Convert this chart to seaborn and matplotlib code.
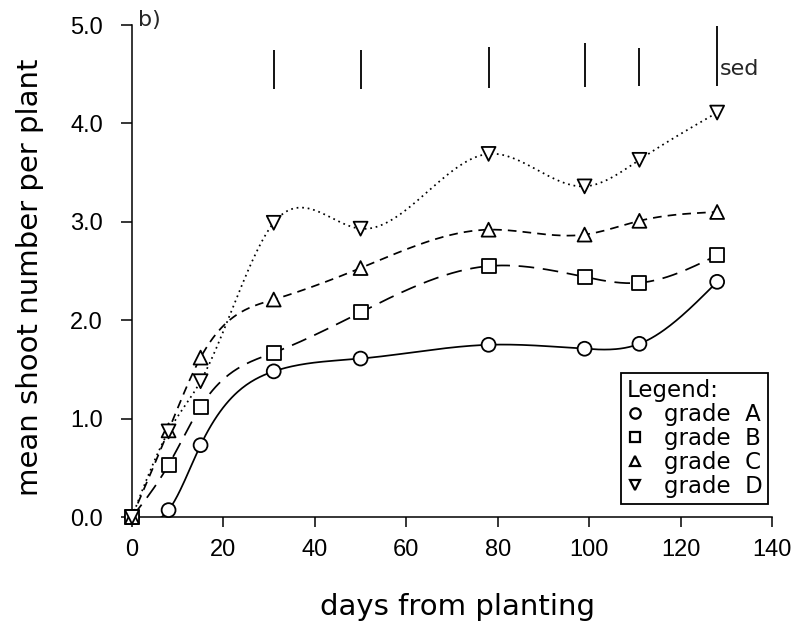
import numpy as np
import pandas as pd
import matplotlib
matplotlib.use("Agg")
import matplotlib.pyplot as plt
import seaborn as sns
from matplotlib.lines import Line2D

# ---------------- data ----------------
days = [0, 8, 15, 31, 50, 78, 99, 111, 128]
grade_a = [0.00, 0.07, 0.73, 1.48, 1.61, 1.75, 1.71, 1.76, 2.39]
grade_b = [0.00, 0.53, 1.12, 1.67, 2.08, 2.55, 2.44, 2.38, 2.66]
grade_c = [0.00, 0.88, 1.62, 2.21, 2.53, 2.92, 2.87, 3.01, 3.10]
grade_d = [0.00, 0.87, 1.38, 2.99, 2.93, 3.69, 3.36, 3.63, 4.11]
grades = ["A", "B", "C", "D"]
legend_labels = ["grade  A", "grade  B", "grade  C", "grade  D"]

sed_days = [31, 50, 78, 99, 111, 128]
sed_low = [4.35, 4.35, 4.36, 4.37, 4.38, 4.38]
sed_high = [4.75, 4.75, 4.78, 4.82, 4.77, 4.99]

x_ticks = [0, 20, 40, 60, 80, 100, 120, 140]
y_ticks = [0.0, 1.0, 2.0, 3.0, 4.0, 5.0]

# ---------------- helpers ----------------
def natural_spline(x, y, n=400):
    x = np.asarray(x, float)
    y = np.asarray(y, float)
    k = len(x)
    h = np.diff(x)
    A = np.zeros((k, k))
    r = np.zeros(k)
    A[0, 0] = 1.0
    A[-1, -1] = 1.0
    for i in range(1, k - 1):
        A[i, i - 1] = h[i - 1]
        A[i, i] = 2 * (h[i - 1] + h[i])
        A[i, i + 1] = h[i]
        r[i] = 6 * ((y[i + 1] - y[i]) / h[i] - (y[i] - y[i - 1]) / h[i - 1])
    M = np.linalg.solve(A, r)
    xs = np.linspace(x[0], x[-1], n)
    idx = np.clip(np.searchsorted(x, xs) - 1, 0, k - 2)
    x0 = x[idx]
    x1 = x[idx + 1]
    hh = x1 - x0
    t0 = x1 - xs
    t1 = xs - x0
    ys = ((M[idx] * t0 ** 3 + M[idx + 1] * t1 ** 3) / (6 * hh)
          + (y[idx] / hh - M[idx] * hh / 6) * t0
          + (y[idx + 1] / hh - M[idx + 1] * hh / 6) * t1)
    return xs, ys

# ---------------- style ----------------
sns.set_theme(style="ticks")
plt.rcParams["font.family"] = ["DejaVu Sans"]
plt.rcParams["axes.linewidth"] = 1.1

fig = plt.figure(figsize=(7.98, 6.23), dpi=100)
ax = fig.add_axes([132 / 798, 1 - 517 / 623, 640 / 798, 492 / 623])

series = {"A": grade_a, "B": grade_b, "C": grade_c, "D": grade_d}
line_styles = {"A": "-", "B": (0, (9, 5)), "C": (0, (5, 3.5)), "D": (0, (1, 2.2))}
markers = {"A": "o", "B": "s", "C": "^", "D": "v"}

# smooth lines through the points
for g in grades:
    xs, ys = natural_spline(days, series[g])
    sns.lineplot(x=xs, y=ys, ax=ax, color="black", linewidth=1.25,
                 linestyle=line_styles[g], estimator=None, sort=False,
                 legend=False)

# markers
df = pd.DataFrame({
    "day": days * 4,
    "value": grade_a + grade_b + grade_c + grade_d,
    "grade": [g for g in grades for _ in days],
})
sns.scatterplot(data=df, x="day", y="value", style="grade", markers=markers,
                s=100, color="white", edgecolor="black", linewidth=1.3,
                legend=False, ax=ax, zorder=3, clip_on=False)

# sed bars
ax.vlines(sed_days, sed_low, sed_high, color="black", linewidth=1.3)
ax.text(sed_days[-1] + 0.5, 4.55, "sed", fontsize=16, va="center", ha="left")

# axes
ax.set_xlim(0, 140)
ax.set_ylim(0, 5.0)
ax.set_xticks(x_ticks)
ax.set_xticklabels([str(t) for t in x_ticks])
ax.set_yticks(y_ticks)
ax.set_yticklabels([f"{t:.1f}" for t in y_ticks])
ax.tick_params(axis="x", direction="out", length=7, width=1.1, pad=9,
               labelsize=17, colors="black")
ax.tick_params(axis="y", direction="out", length=8, width=1.1, pad=13,
               labelsize=17, colors="black")
for lab in ax.get_xticklabels() + ax.get_yticklabels():
    lab.set_family(["Liberation Sans", "DejaVu Sans"])
sns.despine(ax=ax)
ax.spines["left"].set_color("black")
ax.spines["bottom"].set_color("black")

ax.set_xlabel("days from planting", fontsize=21, color="black")
ax.set_ylabel("mean shoot number per plant", fontsize=21, color="black")
ax.xaxis.label.set_va("center")
ax.yaxis.label.set_va("center")
ax.xaxis.set_label_coords(0.509, -0.183)
ax.yaxis.set_label_coords(-0.159, 0.488)

fig.text(138 / 798, 1 - 20 / 623, "b)", fontsize=16, ha="left", va="center")

# legend
handles = [Line2D([], [], linestyle="none", marker=markers[g], markersize=7.5,
                  markerfacecolor="white", markeredgecolor="black",
                  markeredgewidth=1.6) for g in grades]
leg = ax.legend(handles, legend_labels, title="Legend:", loc="lower right",
                bbox_to_anchor=(0.994, 0.026), fontsize=16.5,
                title_fontsize=16.5, frameon=True, fancybox=False,
                framealpha=1, edgecolor="black", borderpad=0.25,
                labelspacing=0.05, handlelength=0.7, handletextpad=0.9,
                borderaxespad=0, alignment="left")
leg.get_frame().set_linewidth(1.3)
for t in leg.get_texts():
    t.set_color("black")
leg.get_title().set_color("black")

fig.savefig("out.png", dpi=100)
